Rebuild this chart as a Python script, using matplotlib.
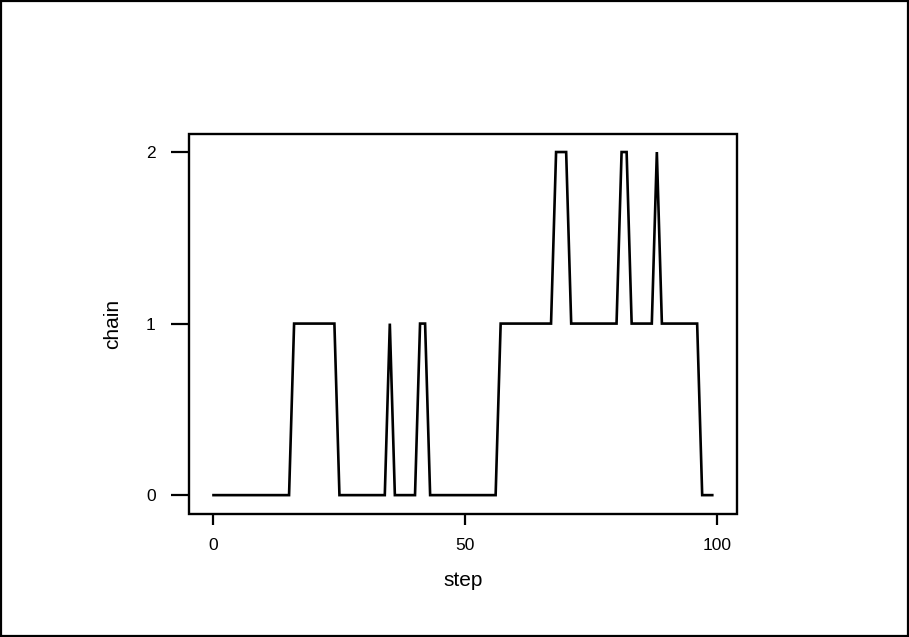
import matplotlib
matplotlib.use("Agg")
import matplotlib.pyplot as plt
from matplotlib.patches import Rectangle

plt.rcParams['font.family'] = ['Liberation Sans', 'DejaVu Sans']

steps = list(range(100))
chain = [0, 0, 0, 0, 0, 0, 0, 0, 0, 0,
         0, 0, 0, 0, 0, 0, 1, 1, 1, 1,
         1, 1, 1, 1, 1, 0, 0, 0, 0, 0,
         0, 0, 0, 0, 0, 1, 0, 0, 0, 0,
         0, 1, 1, 0, 0, 0, 0, 0, 0, 0,
         0, 0, 0, 0, 0, 0, 0, 1, 1, 1,
         1, 1, 1, 1, 1, 1, 1, 1, 2, 2,
         2, 1, 1, 1, 1, 1, 1, 1, 1, 1,
         1, 2, 2, 1, 1, 1, 1, 1, 2, 1,
         1, 1, 1, 1, 1, 1, 1, 0, 0, 0]
xticks = [0, 50, 100]
yticks = [0, 1, 2]

W, H = 909, 637
fig = plt.figure(figsize=(W / 100, H / 100), dpi=100)
ax = fig.add_axes([189 / W, 1 - 514 / H, (736.7 - 189) / W, (514 - 133.5) / H])

ax.plot(steps, chain, color='black', linewidth=1.9, solid_joinstyle='miter')
ax.set_xlim(-4.86, 103.85)
ax.set_ylim(-0.11, 2.108)
ax.set_xticks(xticks)
ax.set_yticks(yticks)
ax.tick_params(axis='x', direction='out', length=8, width=1.6, labelsize=12.5, pad=9)
ax.tick_params(axis='y', direction='out', length=13, width=1.6, labelsize=12.5, pad=11)
for s in ax.spines.values():
    s.set_visible(False)
ax.add_patch(Rectangle((0, 0), 1, 1, transform=ax.transAxes, fill=False,
                       edgecolor='black', linewidth=1.7, joinstyle='miter',
                       clip_on=False, zorder=3))
ax.set_xlabel('step', fontsize=15, labelpad=13)
ax.set_ylabel('chain', fontsize=15, labelpad=17)

fig.patches.append(Rectangle((0.001, 0.001), 0.998, 0.997, transform=fig.transFigure,
                             fill=False, edgecolor='black', linewidth=1.6))

fig.savefig('out.png', dpi=100)
